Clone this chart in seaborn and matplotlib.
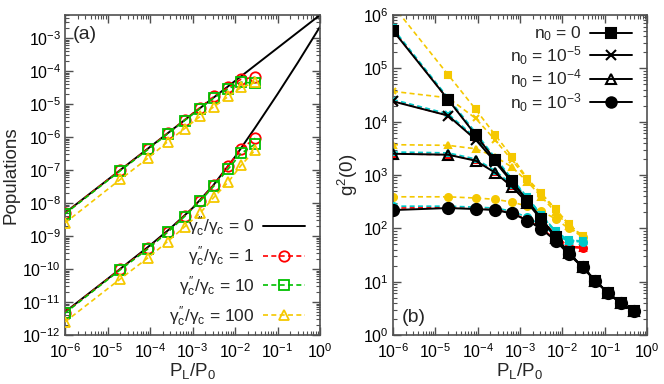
import numpy as np
import pandas as pd
import seaborn as sns
import matplotlib
matplotlib.use("Agg")
import matplotlib.pyplot as plt
from matplotlib.lines import Line2D
from matplotlib.ticker import LogLocator, NullFormatter

# ---------------- data ----------------
# marker x positions (P_L/P_0)
x_pts = [1e-6, 2e-5, 9e-5, 2.6e-4, 6.5e-4, 1.5e-3, 3.2e-3, 7e-3, 1.4e-2, 3e-2]
x_ext = [6e-2, 0.12, 0.24, 0.48]
# black analytic lines in (a)
x_line = [1e-6, 1e-5, 1e-4, 3e-4, 1e-3, 3e-3, 1e-2, 3e-2, 1e-1, 3e-1, 1.0]
upper_line = [5e-9, 5e-8, 5e-7, 1.5e-6, 5e-6, 1.5e-5, 5e-5, 1.5e-4, 5e-4, 1.5e-3, 5e-3]
lower_line = [5e-12, 5e-11, 5.2e-10, 1.7e-9, 7e-9, 3.3e-8, 2.5e-7, 1.95e-6, 2e-5, 1.8e-4, 2.2e-3]

upper_g1 = [4.9e-9, 1e-7, 4.4e-7, 1.3e-6, 3.3e-6, 7.8e-6, 1.7e-5, 3.2e-5, 5.7e-5, 6.5e-5]
upper_g10 = [4.7e-9, 9.5e-8, 4.2e-7, 1.25e-6, 3.15e-6, 7.3e-6, 1.55e-5, 2.9e-5, 4.6e-5, 4.3e-5]
upper_g100 = [2.5e-9, 5.2e-8, 2.3e-7, 7.2e-7, 1.8e-6, 4.2e-6, 8.3e-6, 1.7e-5, 3.2e-5, 4.5e-5]
lower_g1 = [4.8e-12, 1e-10, 4.3e-10, 1.35e-9, 4.1e-9, 1.18e-8, 3.5e-8, 1.35e-7, 4.4e-7, 9.2e-7]
lower_g10 = [4.6e-12, 9.5e-11, 4.1e-10, 1.3e-9, 3.9e-9, 1.12e-8, 3.3e-8, 1.1e-7, 3.2e-7, 6.2e-7]
lower_g100 = [2.5e-12, 5e-11, 2.2e-10, 6.8e-10, 1.9e-9, 4.9e-9, 1.5e-8, 4.4e-8, 1.4e-7, 4.1e-7]

gamma_labels = ["0", "1", "10", "100"]
n0_labels = ["0", "10$^{-5}$", "10$^{-4}$", "10$^{-3}$"]

# g2(0), gamma''/gamma = 0 (black, extended x)
g2_g0 = [
    [5.1e5, 2.6e4, 5.6e3, 1.9e3, 7.6e2, 3.3e2, 1.5e2, 69, 36, 18.7, 10.5, 6.1, 4.0, 2.8],
    [2.4e4, 1.3e4, 4.6e3, 1.75e3, 7.3e2, 3.2e2, 1.5e2, 68, 35, 18.7, 10.5, 6.1, 4.0, 2.8],
    [2.5e3, 2.4e3, 1.85e3, 1.1e3, 6e2, 3e2, 1.45e2, 67, 34, 18.7, 10.5, 6.1, 4.0, 2.8],
    [2.2e2, 2.4e2, 2.3e2, 2.2e2, 1.9e2, 1.4e2, 98, 58, 33, 18.7, 10.5, 6.1, 4.0, 2.8],
]
g2_g1 = [
    [5.2e5, 2.6e4, 5.7e3, 1.95e3, 7.8e2, 3.4e2, 1.55e2, 72, 46, 44],
    [2.45e4, 1.3e4, 4.7e3, 1.8e3, 7.4e2, 3.3e2, 1.55e2, 71, 46, 44],
    [2.5e3, 2.4e3, 1.9e3, 1.12e3, 6.1e2, 3.1e2, 1.5e2, 70, 45, 43],
    [2.4e2, 2.45e2, 2.35e2, 2.25e2, 1.95e2, 1.45e2, 1e2, 62, 44, 43],
]
g2_g10 = [
    [5.6e5, 2.8e4, 6.2e3, 2.1e3, 8.5e2, 3.8e2, 1.8e2, 88, 60, 58],
    [2.6e4, 1.4e4, 5e3, 1.9e3, 8e2, 3.7e2, 1.75e2, 86, 59, 57],
    [2.7e3, 2.6e3, 2e3, 1.2e3, 6.6e2, 3.4e2, 1.7e2, 84, 58, 57],
    [2.6e2, 2.6e2, 2.5e2, 2.4e2, 2.1e2, 1.6e2, 1.15e2, 75, 57, 56],
]
g2_g100 = [
    [1.5e6, 7.6e4, 1.7e4, 5.6e3, 2.2e3, 8.5e2, 4.5e2, 2.3e2, 1.2e2, 72],
    [3.7e4, 2.8e4, 1.15e4, 4.5e3, 1.9e3, 8.2e2, 4.3e2, 2.2e2, 1.2e2, 70],
    [3.7e3, 3.6e3, 3.1e3, 2.2e3, 1.4e3, 7.5e2, 3.9e2, 2e2, 1.1e2, 68],
    [3.9e2, 3.9e2, 3.7e2, 3.5e2, 3.1e2, 2.6e2, 2.1e2, 1.5e2, 1e2, 70],
]

# ---------------- style ----------------
sns.set_theme(style="ticks")
plt.rcParams["font.family"] = ["Liberation Sans", "DejaVu Sans"]
plt.rcParams["mathtext.fontset"] = "custom"
plt.rcParams["mathtext.rm"] = "Liberation Sans"
plt.rcParams["mathtext.it"] = "Liberation Sans"
plt.rcParams["mathtext.bf"] = "Liberation Sans"
plt.rcParams["axes.unicode_minus"] = False

RED = "#FF0000"
GREEN = "#00C000"
CYAN = "#00C8C8"
YEL = "#F5C800"
BORDER = "#505050"
TICK_FS = 11.5
LAB_FS = 13.5

fig = plt.figure(figsize=(6.64, 3.84), dpi=100)
axA = fig.add_axes([65 / 664, 1 - 335 / 384, 255 / 664, 320 / 384])
axB = fig.add_axes([393 / 664, 1 - 335 / 384, 254 / 664, 320 / 384])


def style_axis(ax):
    ax.set_xscale("log")
    ax.set_yscale("log")
    for s in ax.spines.values():
        s.set_color(BORDER)
        s.set_linewidth(1.2)
    ax.tick_params(which="both", direction="in", top=True, right=True,
                   colors=BORDER, labelcolor="black", labelsize=TICK_FS)
    ax.tick_params(which="major", length=6, width=1.0)
    ax.tick_params(axis="x", which="major", pad=5)
    ax.tick_params(axis="y", which="major", pad=3)
    ax.tick_params(which="minor", length=3, width=0.8)
    ax.xaxis.set_major_locator(LogLocator(base=10, numticks=20))
    ax.yaxis.set_major_locator(LogLocator(base=10, numticks=20))
    ax.xaxis.set_minor_locator(LogLocator(base=10, subs=np.arange(2, 10), numticks=100))
    ax.yaxis.set_minor_locator(LogLocator(base=10, subs=np.arange(2, 10), numticks=100))
    ax.xaxis.set_minor_formatter(NullFormatter())
    ax.yaxis.set_minor_formatter(NullFormatter())


def draw(ax, x, y, color, ls, marker=None, ms=6, mfc=None, mew=1.2, lw=1.2, zorder=2):
    df = pd.DataFrame({"x": x, "y": y})
    kw = dict(color=color, linestyle=ls, linewidth=lw, zorder=zorder)
    if marker is not None:
        kw.update(marker=marker, markersize=ms,
                  markerfacecolor=(mfc if mfc is not None else color),
                  markeredgecolor=color, markeredgewidth=mew)
    sns.lineplot(data=df, x="x", y="y", ax=ax, legend=False, errorbar=None,
                 sort=False, **kw)


# ---------------- panel (a) ----------------
style_axis(axA)
draw(axA, x_line, upper_line, "black", "-", lw=1.4, zorder=2)
draw(axA, x_line, lower_line, "black", "-", lw=1.4, zorder=2)
dash = (0, (3, 2))
for up, lo, col, mk in [(upper_g1, lower_g1, RED, "o"),
                        (upper_g10, lower_g10, GREEN, "s"),
                        (upper_g100, lower_g100, YEL, "^")]:
    ms = 7.5 if mk != "s" else 6.5
    draw(axA, x_pts, up, col, dash, marker=mk, ms=ms, mfc="none", mew=1.3, zorder=3)
    draw(axA, x_pts, lo, col, dash, marker=mk, ms=ms, mfc="none", mew=1.3, zorder=3)

axA.set_xlim(1e-6, 1)
axA.set_ylim(1e-12, 5e-3)
axA.set_xlabel("P$_L$/P$_0$", fontsize=LAB_FS, labelpad=0)
axA.set_ylabel("Populations", fontsize=LAB_FS, labelpad=2)
axA.text(0.03, 0.94, "(a)", transform=axA.transAxes, fontsize=LAB_FS + 0.5, va="center", ha="left")

hA = [Line2D([], [], color="black", lw=1.4),
      Line2D([], [], color=RED, ls=dash, lw=1.2, marker="o", ms=7.5, mfc="none", mec=RED, mew=1.3),
      Line2D([], [], color=GREEN, ls=dash, lw=1.2, marker="s", ms=6.5, mfc="none", mec=GREEN, mew=1.3),
      Line2D([], [], color=YEL, ls=dash, lw=1.2, marker="^", ms=7.5, mfc="none", mec=YEL, mew=1.3)]
lA = [r"$\gamma_c^{\prime\prime}/\gamma_c$ = " + g for g in gamma_labels]
legA = axA.legend(hA, lA, loc="lower right", bbox_to_anchor=(0.94, 0.02),
                  frameon=False, markerfirst=False, fontsize=TICK_FS + 1,
                  handlelength=2.4, handletextpad=0.5, labelspacing=0.32,
                  borderpad=0, borderaxespad=0)

# ---------------- panel (b) ----------------
style_axis(axB)
markers = ["s", "x", "^", "o"]
small_ms = [4.5, 5, 5, 5]
big_ms = [7.5, 7.5, 7, 8]
for i in range(4):
    mk = markers[i]
    draw(axB, x_pts, g2_g100[i], YEL, dash, marker=mk, ms=small_ms[i], mew=1.5, zorder=2)
for i in range(4):
    mk = markers[i]
    draw(axB, x_pts, g2_g1[i], RED, dash, marker=mk, ms=small_ms[i], mew=1.5, zorder=3)
for i in range(4):
    mk = markers[i]
    draw(axB, x_pts, g2_g10[i], CYAN, dash, marker=mk, ms=small_ms[i], mew=1.5, zorder=4)
for i in range(4):
    mk = markers[i]
    mfc = "none" if mk == "^" else "black"
    draw(axB, x_pts + x_ext, g2_g0[i], "black", "-", marker=mk, ms=big_ms[i],
         mfc=mfc, mew=1.5, lw=1.4, zorder=5)

axB.set_xlim(1e-6, 1)
axB.set_ylim(1, 1e6)
axB.set_xlabel("P$_L$/P$_0$", fontsize=LAB_FS, labelpad=0)
axB.set_ylabel("g$^2$(0)", fontsize=LAB_FS, labelpad=2)
axB.text(0.035, 0.056, "(b)", transform=axB.transAxes, fontsize=LAB_FS + 0.5, va="center", ha="left")

hB = []
for i in range(4):
    mk = markers[i]
    mfc = "none" if mk == "^" else "black"
    hB.append(Line2D([], [], color="black", lw=1.4, marker=mk, ms=big_ms[i] - 0.5,
                     mfc=mfc, mec="black", mew=1.5))
lB = ["n$_0$ = " + n for n in n0_labels]
legB = axB.legend(hB, lB, loc="upper right", bbox_to_anchor=(0.94, 0.97),
                  frameon=False, markerfirst=False, fontsize=TICK_FS + 1,
                  handlelength=2.4, handletextpad=0.5, labelspacing=0.05,
                  borderpad=0, borderaxespad=0)

fig.savefig("out.png", dpi=100)
